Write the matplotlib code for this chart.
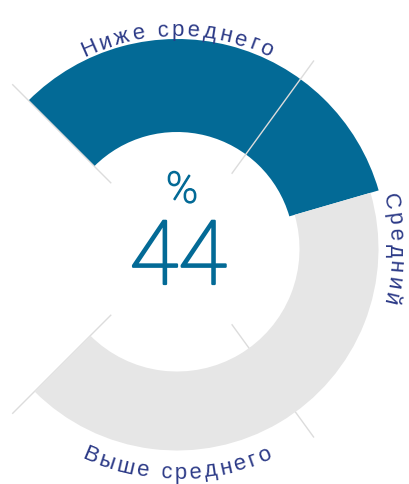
import numpy as np
import matplotlib
matplotlib.use('Agg')
import matplotlib.pyplot as plt
import matplotlib.patheffects as pe
from matplotlib.font_manager import FontProperties, findfont, get_font

# ---- data ----
value = 44
scale_min, scale_max = 0, 100
thresholds = [0, 30, 70, 100]
segment_labels = ['Ниже среднего', 'Средний', 'Выше среднего']
value_label = '44'
unit_label = '%'

# ---- style ----
BLUE = '#036a96'
GRAY = '#e6e6e6'
TICK = '#dcdcdc'
NAVY = '#2c3a87'
W, H, DPI = 410, 484, 100
CX, CY = 177, 249          # gauge centre in pixels (from top)
RMAX = 240
START, SPAN = -45.0, 270.0  # compass degrees

fig = plt.figure(figsize=(W / DPI, H / DPI), dpi=DPI)
ax = fig.add_axes([(CX - RMAX) / W, (H - CY - RMAX) / H, 2 * RMAX / W, 2 * RMAX / H],
                  projection='polar')
ax.set_theta_zero_location('N')
ax.set_theta_direction(-1)
ax.set_ylim(0, RMAX)
ax.set_axis_off()


def ang(v):
    return np.deg2rad(START + SPAN * (v - scale_min) / (scale_max - scale_min))


# filled part (value) and remainder
ax.bar(ang(scale_min), 93, width=ang(value) - ang(scale_min), bottom=117,
       align='edge', color=BLUE, linewidth=0, zorder=1)
ax.bar(ang(value), 79, width=ang(scale_max) - ang(value), bottom=122.5,
       align='edge', color=GRAY, linewidth=0, zorder=3)

for t in thresholds:
    ax.plot([ang(t), ang(t)], [93, 233], color=TICK, lw=1.0,
            solid_capstyle='butt', zorder=2)

# ---- curved labels ----
FS = 16
fp = FontProperties(family='Liberation Sans', size=FS)
font = get_font(findfont(fp))
font.set_size(FS, DPI)


def advance(ch):
    g = font.load_char(ord(ch))
    return g.linearHoriAdvance / 65536.0


def curved(text, center_deg, r, clockwise, spacing):
    advs = [advance(c) for c in text]
    total = sum(advs) + spacing * (len(text) - 1)
    pos = -total / 2
    for c, a in zip(text, advs):
        s = pos + a / 2
        pos += a + spacing
        if c == ' ':
            continue
        d = np.rad2deg(s / r)
        if clockwise:
            deg = center_deg + d
            rot = -deg
        else:
            deg = center_deg - d
            rot = 180 - deg
        ax.text(np.deg2rad(deg), r, c, rotation=rot, rotation_mode='anchor',
                ha='center', va='baseline', fontproperties=fp, color=NAVY,
                zorder=4)


curved(segment_labels[0], 0, 213, True, 3.0)
curved(segment_labels[1], 90, 213, True, 3.0)
curved(segment_labels[2], 180, 230, False, 3.0)

# ---- centre value ----
fig.text(182 / W, 1 - 191 / H, unit_label, ha='center', va='center',
         family='Roboto', weight='light', fontsize=31, color=BLUE,
         path_effects=[pe.withStroke(linewidth=1.0, foreground=BLUE)])
fig.text(178 / W, 1 - 284 / H, value_label, ha='center', va='baseline',
         family='Roboto', weight='light', fontsize=64, color=BLUE,
         path_effects=[pe.withStroke(linewidth=1.6, foreground=BLUE)])

fig.savefig('out.png', dpi=DPI)
